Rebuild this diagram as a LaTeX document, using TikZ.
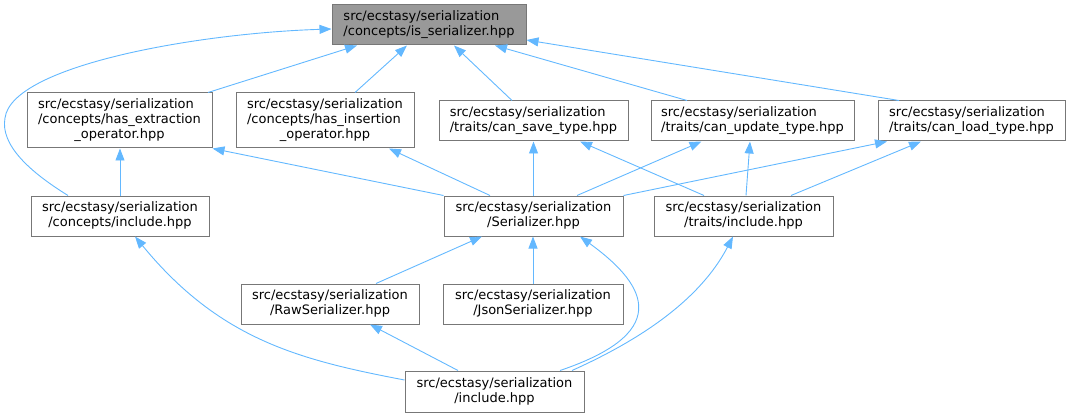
\documentclass[tikz,border=0pt]{standalone}
\usepackage{fontspec}
\setmainfont{DejaVu Sans}
\usetikzlibrary{arrows.meta,calc}
\definecolor{edgeblue}{HTML}{63B8FF}
\definecolor{boxline}{HTML}{777777}
\definecolor{rootfill}{HTML}{999999}
\newcommand{\twol}[2]{\begin{tabular}{@{}l@{}}#1\\\multicolumn{1}{@{}c@{}}{#2}\end{tabular}}
\newcommand{\threel}[3]{\begin{tabular}{@{}l@{}}#1\\#2\\\multicolumn{1}{@{}c@{}}{#3}\end{tabular}}
\begin{document}
\begin{tikzpicture}[x=1pt,y=-1pt,
  box/.style={draw=boxline, line width=1pt, rectangle, inner sep=0pt,
    font=\fontsize{13}{15}\selectfont, minimum height=40pt},
  rootbox/.style={box, fill=rootfill},
  edge/.style={draw=edgeblue, line width=0.9pt, -{Triangle[length=12pt,width=9pt]}},
]
\useasboundingbox (0,0) rectangle (1071,417);

\node[rootbox, minimum width=194pt] (root) at (429,25) {\twol{src/ecstasy/serialization}{/concepts/is\_serializer.hpp}};
\node[box, minimum width=185pt, minimum height=55pt] (hext) at (119.5,120.5) {\threel{src/ecstasy/serialization}{/concepts/has\_extraction}{\_operator.hpp}};
\node[box, minimum width=178pt, minimum height=55pt] (hins) at (325,120.5) {\threel{src/ecstasy/serialization}{/concepts/has\_insertion}{\_operator.hpp}};
\node[box, minimum width=189pt] (csave) at (533.5,121) {\twol{src/ecstasy/serialization}{/traits/can\_save\_type.hpp}};
\node[box, minimum width=203pt] (cupd) at (752.5,121) {\twol{src/ecstasy/serialization}{/traits/can\_update\_type.hpp}};
\node[box, minimum width=187pt] (cload) at (971.5,121) {\twol{src/ecstasy/serialization}{/traits/can\_load\_type.hpp}};
\node[box, minimum width=178pt] (cinc) at (120,216) {\twol{src/ecstasy/serialization}{/concepts/include.hpp}};
\node[box, minimum width=179pt] (ser) at (533.5,216) {\twol{src/ecstasy/serialization}{/Serializer.hpp}};
\node[box, minimum width=179pt] (tinc) at (743.5,216) {\twol{src/ecstasy/serialization}{/traits/include.hpp}};
\node[box, minimum width=178pt] (raw) at (330,304) {\twol{src/ecstasy/serialization}{/RawSerializer.hpp}};
\node[box, minimum width=180pt] (json) at (533,304) {\twol{src/ecstasy/serialization}{/JsonSerializer.hpp}};
\node[box, minimum width=179pt, minimum height=41pt] (inc) at (494.5,391.5) {\twol{src/ecstasy/serialization}{/include.hpp}};

\draw[edge] ($(cinc.north)+(-52,0)$) .. controls (30,172) and (0,145) .. (5,118) .. controls (12,65) and (200,33) .. ($(root.west)+(0,4)$);
\draw[edge] ($(hext.north)+(88.5,0)$) -- ($(root.south)+(-72,0)$);
\draw[edge] ($(hins.north)+(30,0)$) -- ($(root.south)+(-22,0)$);
\draw[edge] ($(csave.north)+(-21.5,0)$) -- ($(root.south)+(25,0)$);
\draw[edge] ($(cupd.north)+(-65.5,0)$) -- ($(root.south)+(66,0)$);
\draw[edge] ($(cload.north)+(-72.5,0)$) -- ($(root.east)+(0,15)$);
\draw[edge] (cinc.north) -- (cinc.north |- hext.south);
\draw[edge] (ser.north west) -- (hext.south east);
\draw[edge] ($(ser.north)+(-43.5,0)$) -- ($(hins.south)+(64,0)$);
\draw[edge] (ser.north) -- (ser.north |- csave.south);
\draw[edge] ($(tinc.north)+(-39.5,0)$) -- ($(csave.south)+(46.5,0)$);
\draw[edge] ($(ser.north)+(43.5,0)$) -- ($(cupd.south)+(-51,0)$);
\draw[edge] ($(tinc.north)+(2.5,0)$) -- ($(cupd.south)+(-2.5,0)$);
\draw[edge] (ser.north east) -- ($(cload.south)+(-84.5,0)$);
\draw[edge] ($(tinc.north)+(47.5,0)$) -- ($(cload.south)+(-50.5,0)$);
\draw[edge] ($(raw.north)+(46,0)$) -- ($(ser.south)+(-51.5,0)$);
\draw[edge] (json.north) -- (json.north |- ser.south);
\draw[edge] ($(inc.north)+(65.5,0)$) .. controls (680,330) and (640,280) .. ($(ser.south)+(46.5,0)$);
\draw[edge] ($(inc.north)+(77.5,0)$) .. controls (640,340) and (700,300) .. ($(tinc.south)+(-10.5,0)$);
\draw[edge] ($(inc.north)+(-36.5,0)$) -- ($(raw.south)+(40,0)$);
\draw[edge] ($(inc.west)+(0,-11.5)$) .. controls (300,360) and (220,340) .. ($(cinc.south)+(15,0)$);
\end{tikzpicture}
\end{document}
